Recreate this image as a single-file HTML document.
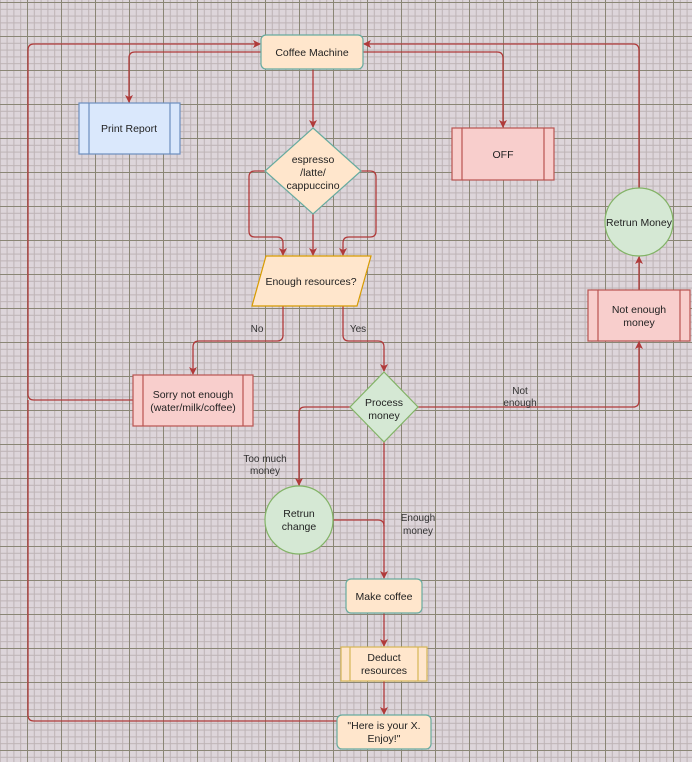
<!DOCTYPE html>
<html><head><meta charset="utf-8"><style>
html,body{margin:0;padding:0;background:#ddd5da;}
svg{display:block;font-family:"Liberation Sans",Arial,sans-serif;}
</style></head><body>
<svg width="692" height="762" viewBox="0 0 692 762" xmlns="http://www.w3.org/2000/svg">
<defs>
<pattern id="minor" x="-7" y="2" width="6.8" height="6.8" patternUnits="userSpaceOnUse">
<path d="M0 0.5H6.8M0.5 0V6.8" stroke="#bdb3b5" stroke-width="1" fill="none"/>
</pattern>
<pattern id="major" x="-7" y="2" width="34" height="34" patternUnits="userSpaceOnUse">
<path d="M0 0.5H34M0.5 0V34" stroke="#8a8675" stroke-width="1" fill="none"/>
</pattern>
<marker id="a" markerWidth="8" markerHeight="8" refX="7" refY="4" orient="auto" markerUnits="userSpaceOnUse">
<path d="M0,0 L8,4 L0,8 L2,4 z" fill="#b03a3a"/>
</marker>
</defs>
<rect width="692" height="762" fill="#ddd5da"/>
<rect width="692" height="762" fill="url(#minor)"/>
<rect width="692" height="762" fill="url(#major)"/>

<g fill="none" stroke="#b03a3a" stroke-width="1.3">
<path d="M313 69V127" marker-end="url(#a)"/>
<path d="M261 52H135Q129 52 129 58V102" marker-end="url(#a)"/>
<path d="M363 52H497Q503 52 503 58V127" marker-end="url(#a)"/>
<path d="M133 400H34Q28 400 28 394V50Q28 44 34 44H260" marker-end="url(#a)"/>
<path d="M337 721H34Q28 721 28 715V400"/>
<path d="M639 188V50Q639 44 633 44H364" marker-end="url(#a)"/>
<path d="M265 171H255Q249 171 249 177V231Q249 237 255 237H277Q283 237 283 243V255" marker-end="url(#a)"/>
<path d="M313 214V255" marker-end="url(#a)"/>
<path d="M361 171H370Q376 171 376 177V231Q376 237 370 237H349Q343 237 343 243V255" marker-end="url(#a)"/>
<path d="M283 306V335Q283 341 277 341H199Q193 341 193 347V374" marker-end="url(#a)"/>
<path d="M343 306V335Q343 341 349 341H378Q384 341 384 347V371" marker-end="url(#a)"/>
<path d="M350 407H305Q299 407 299 413V485" marker-end="url(#a)"/>
<path d="M418 407H633Q639 407 639 401V342" marker-end="url(#a)"/>
<path d="M384 442V578" marker-end="url(#a)"/>
<path d="M333 520H378Q384 520 384 526"/>
<path d="M639 290V257" marker-end="url(#a)"/>
<path d="M384 613V646" marker-end="url(#a)"/>
<path d="M384 681V714" marker-end="url(#a)"/>
</g>

<rect x="261" y="35" width="102" height="34" rx="5" fill="#ffe6cc" stroke="#67ab9f" stroke-width="1.2"/>
<rect x="79" y="103" width="101" height="51" fill="#dae8fc" stroke="#6c8ebf" stroke-width="1.2"/>
<path d="M89 103V154M170 103V154" stroke="#6c8ebf" stroke-width="1.2"/>
<rect x="452" y="128" width="102" height="52" fill="#f8cecc" stroke="#b85450" stroke-width="1.2"/>
<path d="M462 128V180M544 128V180" stroke="#b85450" stroke-width="1.2"/>
<polygon points="313,128 361,171 313,214 265,171" fill="#ffe6cc" stroke="#67ab9f" stroke-width="1.2"/>
<polygon points="266,256 371,256 357,306 252,306" fill="#ffe6cc" stroke="#d79b00" stroke-width="1.2"/>
<rect x="133" y="375" width="120" height="51" fill="#f8cecc" stroke="#b85450" stroke-width="1.2"/>
<path d="M143 375V426M243 375V426" stroke="#b85450" stroke-width="1.2"/>
<polygon points="384,372 418,407 384,442 350,407" fill="#d5e8d4" stroke="#82b366" stroke-width="1.2"/>
<circle cx="299" cy="520" r="34" fill="#d5e8d4" stroke="#82b366" stroke-width="1.2"/>
<rect x="346" y="579" width="76" height="34" rx="5" fill="#ffe6cc" stroke="#67ab9f" stroke-width="1.2"/>
<rect x="341" y="647" width="86" height="34" fill="#ffe6cc" stroke="#d6b656" stroke-width="1.2"/>
<path d="M350 647V681M418 647V681" stroke="#d6b656" stroke-width="1.2"/>
<rect x="337" y="715" width="94" height="34" rx="5" fill="#ffe6cc" stroke="#67ab9f" stroke-width="1.2"/>
<circle cx="639" cy="222" r="34" fill="#d5e8d4" stroke="#82b366" stroke-width="1.2"/>
<rect x="588" y="290" width="102" height="51" fill="#f8cecc" stroke="#b85450" stroke-width="1.2"/>
<path d="M598 290V341M680 290V341" stroke="#b85450" stroke-width="1.2"/>

<g font-size="10.5" fill="#222" text-anchor="middle">
<text x="312" y="56">Coffee Machine</text>
<text x="129" y="132">Print Report</text>
<text x="503" y="158">OFF</text>
<text x="313" y="163">espresso</text>
<text x="313" y="176">/latte/</text>
<text x="313" y="189">cappuccino</text>
<text x="311" y="285">Enough resources?</text>
<text x="193" y="398">Sorry not enough</text>
<text x="193" y="411">(water/milk/coffee)</text>
<text x="384" y="406">Process</text>
<text x="384" y="419">money</text>
<text x="299" y="517">Retrun</text>
<text x="299" y="530">change</text>
<text x="384" y="600">Make coffee</text>
<text x="384" y="661">Deduct</text>
<text x="384" y="674">resources</text>
<text x="384" y="729">"Here is your X.</text>
<text x="384" y="742">Enjoy!"</text>
<text x="639" y="226">Retrun Money</text>
<text x="639" y="313">Not enough</text>
<text x="639" y="326">money</text>
</g>
<g font-size="10" fill="#333" text-anchor="middle">
<text x="257" y="332">No</text>
<text x="358" y="332">Yes</text>
<text x="265" y="462">Too much</text>
<text x="265" y="474">money</text>
<text x="520" y="394">Not</text>
<text x="520" y="406">enough</text>
<text x="418" y="521">Enough</text>
<text x="418" y="534">money</text>
</g>
</svg>
</body></html>
